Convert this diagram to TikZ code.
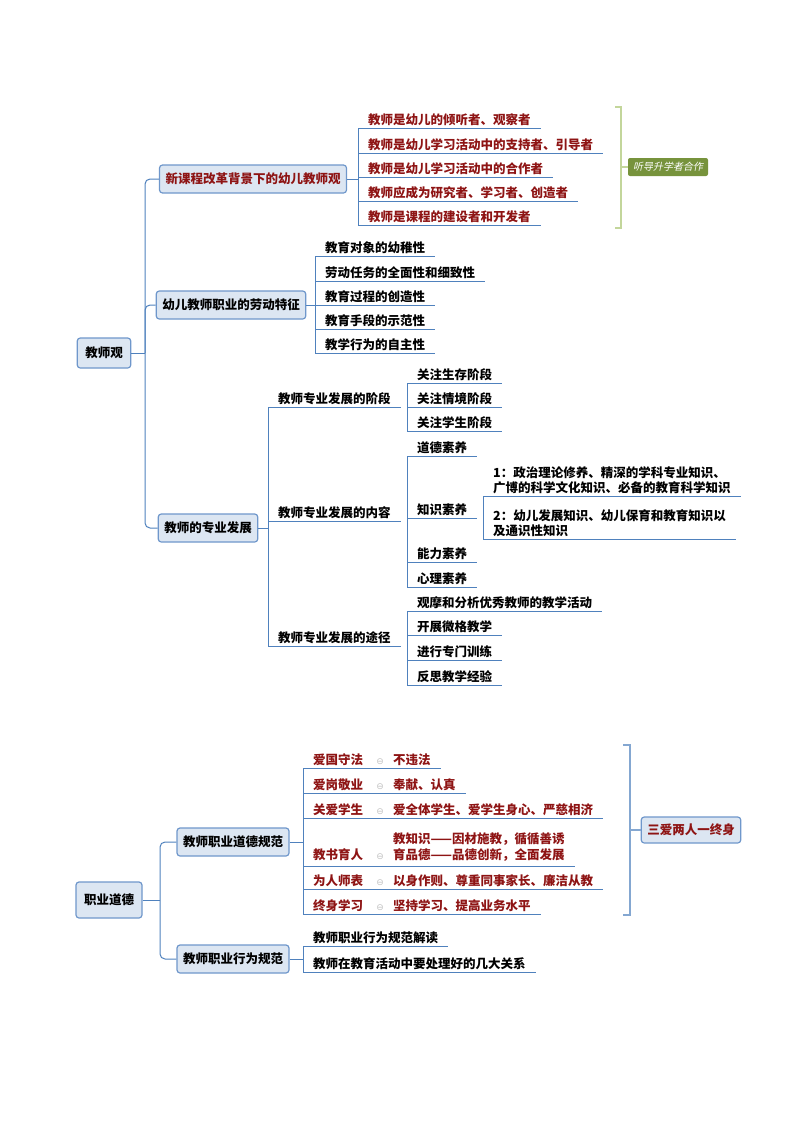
\documentclass[tikz,border=0pt]{standalone}
\usepackage{fontspec}
\setmainfont{Noto Sans CJK SC}[AutoFakeSlant=0.2]
\newfontfamily\dejavu{DejaVu Sans}
\usetikzlibrary{positioning}
\definecolor{boxfill}{HTML}{DCE6F2}
\definecolor{boxdraw}{HTML}{6F97CB}
\definecolor{linec}{HTML}{4F81BD}
\definecolor{redt}{HTML}{8E1414}
\definecolor{greenb}{HTML}{77933C}
\definecolor{brk}{HTML}{C3D69B}
\begin{document}
\begin{tikzpicture}[x=1pt,y=-1pt,
  font=\fontsize{12.5}{15}\selectfont\bfseries,
  rootbox/.style={draw=boxdraw,fill=boxfill,rounded corners=3pt,line width=1.2pt,inner xsep=8pt,minimum height=30pt},
  brbox/.style={draw=boxdraw,fill=boxfill,rounded corners=3pt,line width=1.2pt,inner xsep=6pt,minimum height=28pt},
  leaf/.style={anchor=south west,inner xsep=10pt,inner ysep=2pt,align=left},
  ul/.style={draw=linec,line width=1pt},
  conn/.style={draw=linec,line width=1pt,rounded corners=5pt},
  red/.style={text=redt}]
\useasboundingbox (0,0) rectangle (800,1132);
\def\sep{{\dejavu\mdseries\textcolor{gray!50}{\small ⊖}}}

% ===== top =====
\node[rootbox] (root) at (104,353) {教师观};
\coordinate (tr) at (145,353);
\node[brbox,red] (b1) at (253,179) {新课程改革背景下的幼儿教师观};
\node[brbox] (b2) at (231,305) {幼儿教师职业的劳动特征};
\node[brbox] (b3) at (208,528) {教师的专业发展};
\draw[conn] (root.east) -- (tr);
\draw[conn] (tr) |- (b1.west);
\draw[conn] (tr) |- (b2.west);
\draw[conn] (tr) |- (b3.west);

% leaves of b1
\foreach \i/\y/\t in {1/128/教师是幼儿的倾听者、观察者,2/153/教师是幼儿学习活动中的支持者、引导者,3/177/教师是幼儿学习活动中的合作者,4/201/教师应成为研究者、学习者、创造者,5/225/教师是课程的建设者和开发者}
  {\node[leaf,red] (a\i) at (358,\y) {\t}; \draw[ul] (a\i.south west) -- (a\i.south east);}
\draw[ul] (a1.south west) -- (a5.south west);
\draw[conn] (b1.east) -- (b1.east -| a1.south west);
\draw[draw=brk,line width=1.5pt] (615,107) -- (621,107) -- (621,228) -- (615,228);
\node[fill=greenb,text=white,rounded corners=2pt,font=\fontsize{10}{11}\selectfont\mdseries\itshape,inner sep=3pt,minimum height=18pt,minimum width=80pt] (g) at (668,167) {听导升学者合作};
\draw[draw=brk,line width=1.5pt] (621,167) -- (g.west);

% leaves of b2
\foreach \i/\y/\t in {1/256/教育对象的幼稚性,2/281/劳动任务的全面性和细致性,3/305/教育过程的创造性,4/329/教育手段的示范性,5/353/教学行为的自主性}
  {\node[leaf] (c\i) at (315,\y) {\t}; \draw[ul] (c\i.south west) -- (c\i.south east);}
\draw[ul] (c1.south west) -- (c5.south west);
\draw[conn] (b2.east) -- (b2.east -| c1.south west);

% b3 subbranches
\node[leaf] (s1) at (268,407) {教师专业发展的阶段};
\node[leaf] (s2) at (268,521) {教师专业发展的内容};
\node[leaf] (s3) at (268,646) {教师专业发展的途径};
\foreach \i in {1,2,3}{\draw[ul] (s\i.south west) -- (s\i.south east);}
\draw[conn] (b3.east) -- (b3.east -| s1.south west);
\draw[ul] (s1.south west) -- (s3.south west);

\foreach \i/\y/\t in {1/383/关注生存阶段,2/407/关注情境阶段,3/431/关注学生阶段}
  {\node[leaf] (p\i) at (407,\y) {\t}; \draw[ul] (p\i.south west) -- (p\i.south east);}
\draw[ul] (p1.south west) -- (p3.south west);

\foreach \i/\y/\t in {1/456/道德素养,2/518/知识素养,3/562/能力素养,4/587/心理素养}
  {\node[leaf] (q\i) at (407,\y) {\t}; \draw[ul] (q\i.south west) -- (q\i.south east);}
\draw[ul] (q1.south west) -- (q4.south west);
\node[leaf] (k1) at (483,496) {1：政治理论修养、精深的学科专业知识、\\广博的科学文化知识、必备的教育科学知识};
\node[leaf] (k2) at (483,539) {2：幼儿发展知识、幼儿保育和教育知识以\\及通识性知识};
\draw[ul] (k1.south west) -- (k1.south east);
\draw[ul] (k2.south west) -- (k2.south east);
\draw[ul] (k1.south west) -- (k2.south west);

\foreach \i/\y/\t in {1/611/观摩和分析优秀教师的教学活动,2/635/开展微格教学,3/660/进行专门训练,4/685/反思教学经验}
  {\node[leaf] (r\i) at (407,\y) {\t}; \draw[ul] (r\i.south west) -- (r\i.south east);}
\draw[ul] (r1.south west) -- (r4.south west);

% ===== bottom =====
\node[rootbox,minimum height=36pt] (root2) at (109,900) {职业道德};
\coordinate (tr2) at (160,900);
\node[brbox] (e1) at (233,842) {教师职业道德规范};
\node[brbox] (e2) at (233,959) {教师职业行为规范};
\draw[conn] (root2.east) -- (tr2);
\draw[conn] (tr2) |- (e1.west);
\draw[conn] (tr2) |- (e2.west);

\foreach \i/\y/\k/\v in {1/768/爱国守法/不违法,2/793/爱岗敬业/奉献、认真,3/818/关爱学生/爱全体学生、爱学生身心、严慈相济,5/889/为人师表/以身作则、尊重同事家长、廉洁从教,6/914/终身学习/坚持学习、提高业务水平}
  {\node[leaf,red] (m\i) at (303,\y) {\makebox[54pt][l]{\k}\makebox[26pt][c]{\sep}\v}; \draw[ul] (m\i.south west) -- (m\i.south east);}
\node[leaf,red] (m4) at (303,866) {\makebox[54pt][l]{教书育人}\makebox[26pt][c]{\sep}\begin{tabular}[b]{@{}l@{}}教知识——因材施教，循循善诱\\育品德——品德创新，全面发展\end{tabular}};
\draw[ul] (m4.south west) -- (m4.south east);
\draw[ul] (m1.south west) -- (m6.south west);
\draw[conn] (e1.east) -- (e1.east -| m1.south west);
\draw[draw=linec!70,line width=1.5pt] (623,745) -- (630,745) -- (630,915) -- (623,915);
\node[draw=boxdraw,fill=boxfill,rounded corners=3pt,line width=1.2pt,text=redt,font=\fontsize{12.5}{15}\selectfont\itshape\bfseries,minimum height=26pt,inner xsep=6pt] (sa) at (691,830) {三爱两人一终身};
\draw[draw=linec!70,line width=1.5pt] (630,830) -- (sa.west);

\node[leaf] (n1) at (303,946) {教师职业行为规范解读};
\node[leaf] (n2) at (303,972) {教师在教育活动中要处理好的几大关系};
\draw[ul] (n1.south west) -- (n1.south east);
\draw[ul] (n2.south west) -- (n2.south east);
\draw[ul] (n1.south west) -- (n2.south west);
\draw[conn] (e2.east) -- (e2.east -| n1.south west);
\end{tikzpicture}
\end{document}
